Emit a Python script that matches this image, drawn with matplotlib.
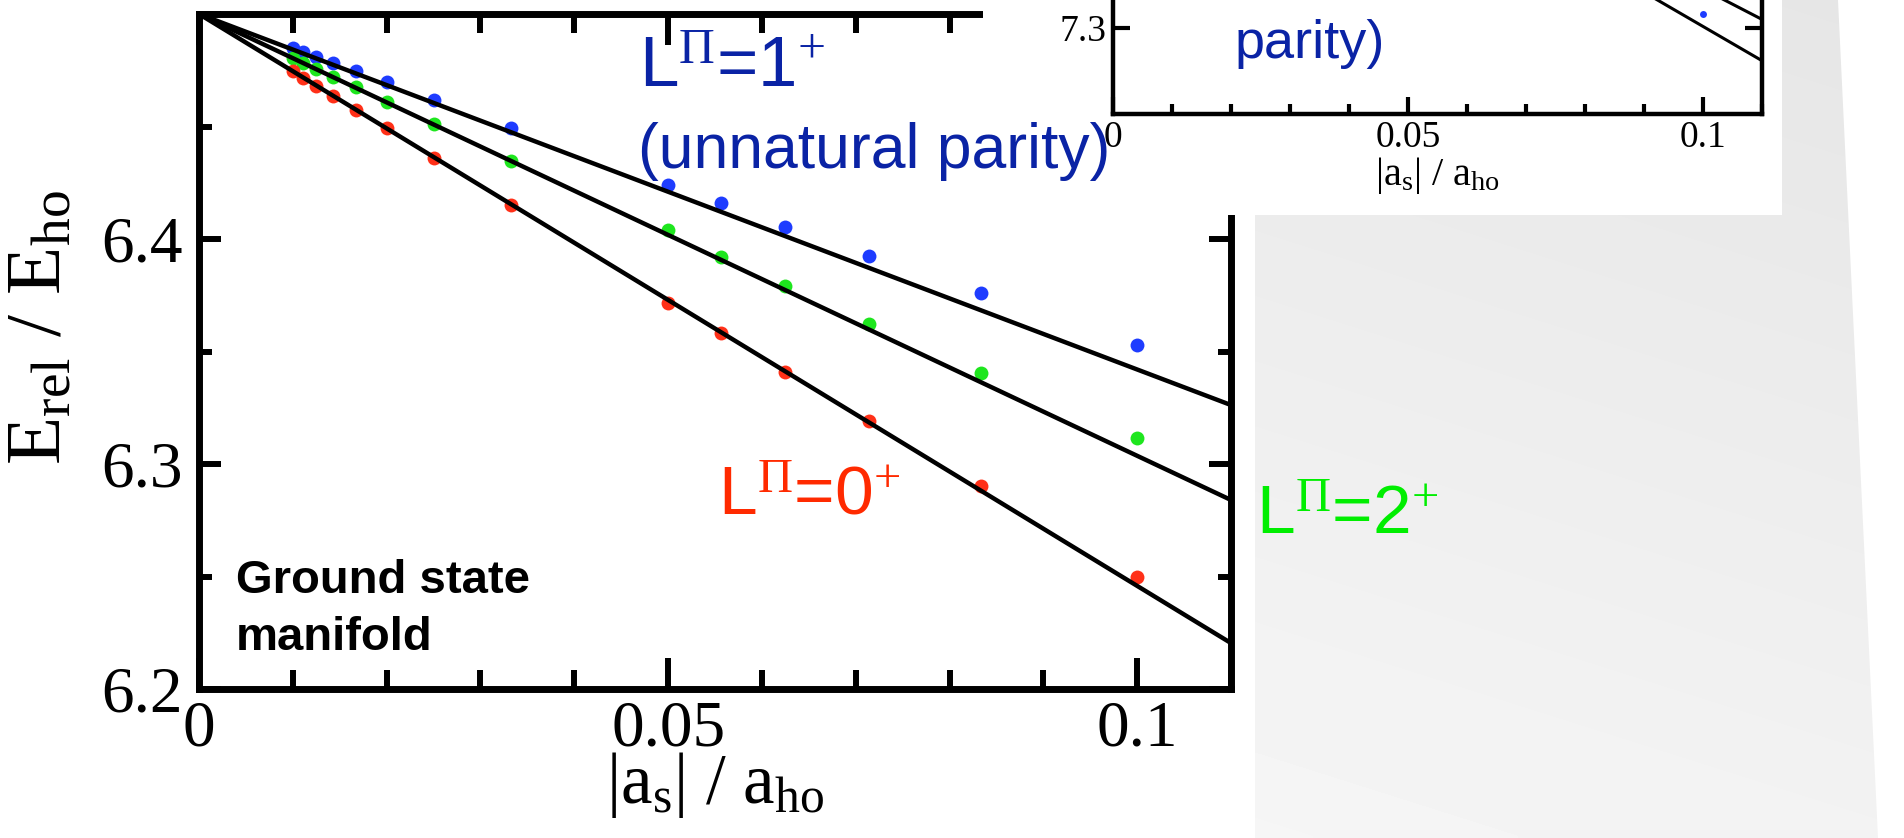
import numpy as np
import matplotlib
matplotlib.use("Agg")
from matplotlib import pyplot as plt
from matplotlib.patches import Polygon, Rectangle
from matplotlib.ticker import FixedLocator, MultipleLocator

plt.rcParams['font.family'] = ['Liberation Serif', 'DejaVu Serif']
plt.rcParams['mathtext.fontset'] = 'custom'
plt.rcParams['mathtext.rm'] = 'Liberation Serif'
plt.rcParams['mathtext.it'] = 'Liberation Serif:italic'
plt.rcParams['mathtext.bf'] = 'Liberation Serif:bold'
plt.rcParams['mathtext.sf'] = 'Liberation Sans'

# |a_s| / a_ho of the computed points
a_s = [0.01, 0.0111, 0.0125, 0.0143, 0.0167, 0.02, 0.025, 0.0333,
       0.05, 0.0556, 0.0625, 0.0714, 0.0833, 0.1]
# E_rel / E_ho, one list per L^pi state
e_1plus = [6.4848, 6.4831, 6.4810, 6.4783, 6.4748, 6.4698, 6.4620, 6.4493,
           6.4240, 6.4160, 6.4053, 6.3924, 6.3760, 6.3529]
e_2plus = [6.4805, 6.4784, 6.4757, 6.4721, 6.4675, 6.4610, 6.4512, 6.4348,
           6.4040, 6.3920, 6.3791, 6.3622, 6.3404, 6.3116]
e_0plus = [6.4745, 6.4717, 6.4681, 6.4636, 6.4575, 6.4492, 6.4362, 6.4150,
           6.3716, 6.3582, 6.3409, 6.3191, 6.2902, 6.2498]

# straight (first order) lines, end points
fit_x = [0.0, 0.11]
fit_1plus = [6.5, 6.3262]
fit_2plus = [6.5, 6.2840]
fit_0plus = [6.5, 6.2204]

# inset (excited manifold, only its lower part is on the picture)
inset_fit_x = [0.0, 0.11]
inset_fit_a = [7.5, 7.281]
inset_fit_b = [7.5, 7.305]
inset_pt_x = [0.1]
inset_pt_y = [7.308]

x_ticks = [0.0, 0.05, 0.1]
x_ticklabels = ["0", "0.05", "0.1"]
y_ticks = [6.2, 6.3, 6.4, 6.5]
y_ticklabels = ["6.2", "6.3", "6.4", ""]
inset_y_ticks = [7.3]
inset_y_ticklabels = ["7.3"]

c_blue, c_green, c_red = '#1e3cff', '#1ee61e', '#ff3018'
t_blue, t_green, t_red = '#0a23a5', '#00ee00', '#ff2a00'

fig = plt.figure(figsize=(19.04, 8.38), dpi=100)

# slide background: light grey panel on the right
bg = fig.add_axes([0, 0, 1, 1], zorder=-2)
bg.set_xlim(0, 1904)
bg.set_ylim(838, 0)
bg.axis('off')
panel = Polygon([(1255, 0), (1838, 0), (1878, 838), (1255, 838)], closed=True,
                fc='none', ec='none', transform=bg.transData)
bg.add_patch(panel)
rows = np.linspace(0, 1, 200)[:, None]
cols = np.linspace(0, 1, 200)[None, :]
shade = 0.900 + 0.050 * rows + 0.012 * (1 - cols)
im = bg.imshow(shade, cmap='gray', vmin=0, vmax=1, extent=(1255, 1890, 838, 0),
               aspect='auto', interpolation='bilinear')
im.set_clip_path(panel)

# main plot
ax = fig.add_axes([0.10452, 0.17780, 0.54202, 0.80549], zorder=0)
ax.set_facecolor('none')
ax.plot(a_s, e_1plus, 'o', color=c_blue, ms=10, mec='none', zorder=2)
ax.plot(a_s, e_2plus, 'o', color=c_green, ms=10, mec='none', zorder=2)
ax.plot(a_s, e_0plus, 'o', color=c_red, ms=10, mec='none', zorder=2)
for fit in (fit_1plus, fit_2plus, fit_0plus):
    ax.plot(fit_x, fit, color='black', lw=3.2, zorder=3)

ax.set_xlim(0, 0.11)
ax.set_ylim(6.2, 6.5)
ax.xaxis.set_major_locator(FixedLocator(x_ticks))
ax.set_xticklabels(x_ticklabels)
ax.xaxis.set_minor_locator(MultipleLocator(0.01))
ax.yaxis.set_major_locator(FixedLocator(y_ticks))
ax.set_yticklabels(y_ticklabels)
ax.yaxis.set_minor_locator(MultipleLocator(0.05))
for sp in ax.spines.values():
    sp.set_linewidth(5)
ax.tick_params(which='both', direction='in', top=True, right=True, width=4.3,
               labelsize=47)
ax.tick_params(axis='x', which='major', length=22, pad=8)
ax.tick_params(axis='x', which='minor', length=13.5)
ax.tick_params(axis='y', which='major', length=16, pad=12)
ax.tick_params(axis='y', which='minor', length=9.5)

ax.set_xlabel(r"|a$_{\rm s}$| / a$_{\rm ho}$", fontsize=51)
ax.xaxis.set_label_coords(0.5, -0.09)
ax.set_ylabel(r"E$_{\rm rel}$ / E$_{\rm ho}$", fontsize=57)
ax.yaxis.set_label_coords(-0.118, 0.535)

# white card of the inset, covering the corner of the main plot
fig.add_artist(Rectangle((983 / 1904, 1 - 215 / 838), 799 / 1904, 215 / 838,
                         transform=fig.transFigure, fc='white', ec='none',
                         zorder=1))

axin = fig.add_axes([0.58456, 1 - 114 / 838, 0.34086, 0.51313], zorder=2)
axin.plot(inset_pt_x, inset_pt_y, 'o', color=c_blue, ms=5, mec='none', zorder=2)
axin.plot(inset_fit_x, inset_fit_a, color='black', lw=2.2, zorder=3)
axin.plot(inset_fit_x, inset_fit_b, color='black', lw=2.2, zorder=3)
axin.set_xlim(0, 0.11)
axin.set_ylim(7.25, 7.5)
axin.xaxis.set_major_locator(FixedLocator(x_ticks))
axin.set_xticklabels(x_ticklabels)
axin.xaxis.set_minor_locator(MultipleLocator(0.01))
axin.yaxis.set_major_locator(FixedLocator(inset_y_ticks))
axin.set_yticklabels(inset_y_ticklabels)
for sp in axin.spines.values():
    sp.set_linewidth(3.2)
axin.tick_params(which='both', direction='in', top=True, right=True, width=3,
                 labelsize=27, pad=5)
axin.tick_params(which='major', length=12.5)
axin.tick_params(which='minor', length=7.5)
axin.set_xlabel(r"|a$_{\rm s}$| / a$_{\rm ho}$", fontsize=29)
axin.xaxis.set_label_coords(0.5, -0.095)

# annotations on top of everything
sans = ['Liberation Sans', 'DejaVu Sans']
fig.text(0.0469, 6.4676, r"L$^{\Pi}$=1$^{+}$", transform=ax.transData,
         color=t_blue, fontsize=51, family=sans, va='baseline', zorder=5)
fig.text(0.0468, 6.4316, "(unnatural parity)", transform=ax.transData,
         color=t_blue, fontsize=45, family=sans, va='baseline', zorder=5)
fig.text(0.1104, 6.4805, "parity)", transform=ax.transData,
         color=t_blue, fontsize=39, family=sans, va='baseline', zorder=5)
fig.text(0.0553, 6.2775, r"L$^{\Pi}$=0$^{+}$", transform=ax.transData,
         color=t_red, fontsize=50, family=sans, va='baseline', zorder=5)
fig.text(0.1127, 6.2689, r"L$^{\Pi}$=2$^{+}$", transform=ax.transData,
         color=t_green, fontsize=50, family=sans, va='baseline', zorder=5)
fig.text(0.0039, 6.2427, "Ground state", transform=ax.transData,
         color='black', fontsize=34, family=sans, weight='bold',
         va='baseline', zorder=5)
fig.text(0.0039, 6.2173, "manifold", transform=ax.transData,
         color='black', fontsize=34, family=sans, weight='bold',
         va='baseline', zorder=5)

fig.savefig('out.png', dpi=100)
